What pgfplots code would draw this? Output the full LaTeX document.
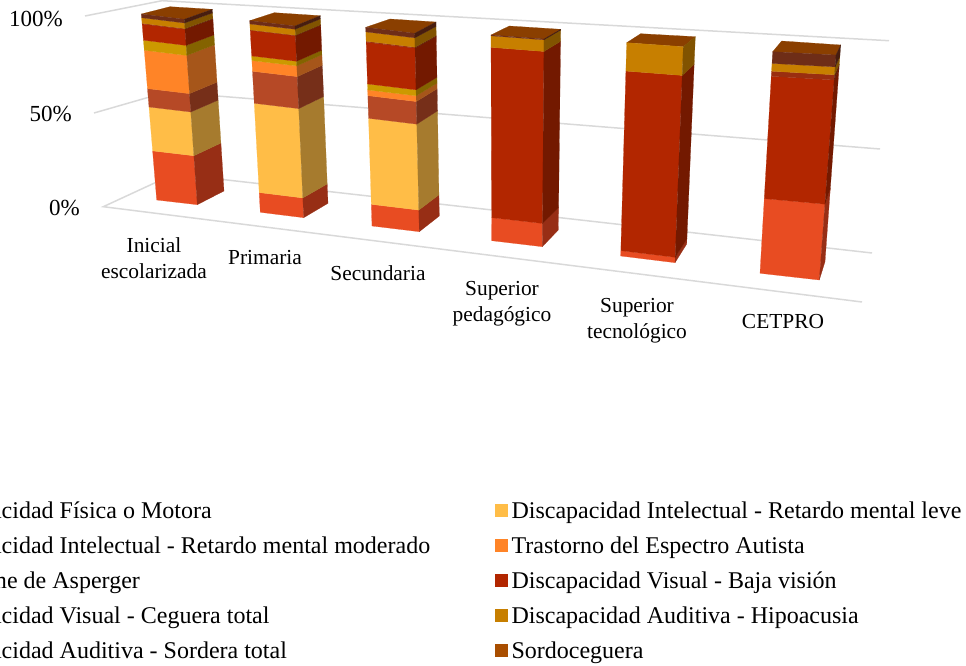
\documentclass[border=0pt]{standalone}
\usepackage{fontspec}
\setmainfont{Liberation Serif}
\usepackage{pgfplots}
\pgfplotsset{compat=1.18}

\definecolor{cFis}{HTML}{E84C22}\definecolor{cFisS}{HTML}{972E15}
\definecolor{cLev}{HTML}{FFBD47}\definecolor{cLevS}{HTML}{A67B2E}
\definecolor{cMod}{HTML}{B64926}\definecolor{cModS}{HTML}{762F19}
\definecolor{cTea}{HTML}{FF8427}\definecolor{cTeaS}{HTML}{A6561A}
\definecolor{cAsp}{HTML}{CC9900}\definecolor{cAspS}{HTML}{846300}
\definecolor{cBaj}{HTML}{B22600}\definecolor{cBajS}{HTML}{731900}
\definecolor{cCeg}{HTML}{9A2E10}\definecolor{cCegS}{HTML}{641E0A}
\definecolor{cHip}{HTML}{C77F00}\definecolor{cHipS}{HTML}{815300}
\definecolor{cSor}{HTML}{6E2D17}\definecolor{cSorS}{HTML}{471D0F}
\definecolor{cSdc}{HTML}{A94E00}\definecolor{cTop}{HTML}{8A3F00}
\definecolor{cGrid}{HTML}{D9D9D9}

% corners of one bar at 0%: front left, front right, back right
\newcommand{\barbottom}[6]{\gdef\cum{0}%
  \gdef\ax{#1}\gdef\ay{#2}\gdef\bx{#3}\gdef\by{#4}\gdef\cx{#5}\gdef\cy{#6}}
% corners at 100%: front left, front right, back right, back left
\newcommand{\bartop}[8]{%
  \gdef\Ax{#1}\gdef\Ay{#2}\gdef\Bx{#3}\gdef\By{#4}\gdef\Cx{#5}\gdef\Cy{#6}%
  \addplot[fill=cTop,draw=cTop,line width=.2pt,forget plot] coordinates {(#1,#2)(#3,#4)(#5,#6)(#7,#8)(#1,#2)};}
% one stacked segment: percentage, front colour, side colour
\newcommand{\seg}[3]{%
  \pgfmathsetmacro\lo{\cum/100}\pgfmathsetmacro\hi{(\cum+#1)/100}%
  \pgfmathsetmacro\pax{\ax+\lo*(\Ax-\ax)}\pgfmathsetmacro\pay{\ay+\lo*(\Ay-\ay)}%
  \pgfmathsetmacro\pbx{\bx+\lo*(\Bx-\bx)}\pgfmathsetmacro\pby{\by+\lo*(\By-\by)}%
  \pgfmathsetmacro\pcx{\cx+\lo*(\Cx-\cx)}\pgfmathsetmacro\pcy{\cy+\lo*(\Cy-\cy)}%
  \pgfmathsetmacro\qax{\ax+\hi*(\Ax-\ax)}\pgfmathsetmacro\qay{\ay+\hi*(\Ay-\ay)}%
  \pgfmathsetmacro\qbx{\bx+\hi*(\Bx-\bx)}\pgfmathsetmacro\qby{\by+\hi*(\By-\by)}%
  \pgfmathsetmacro\qcx{\cx+\hi*(\Cx-\cx)}\pgfmathsetmacro\qcy{\cy+\hi*(\Cy-\cy)}%
  \addplot[fill=#2,draw=#2,line width=.2pt,forget plot] coordinates {(\pax,\pay)(\pbx,\pby)(\qbx,\qby)(\qax,\qay)(\pax,\pay)};%
  \addplot[fill=#3,draw=#3,line width=.2pt,forget plot] coordinates {(\pbx,\pby)(\pcx,\pcy)(\qcx,\qcy)(\qbx,\qby)(\pbx,\pby)};%
  \pgfmathsetmacro\newcum{\cum+#1}\xdef\cum{\newcum}}

\pgfplotsset{sq/.style={legend image code/.code={\fill[#1] (0pt,-4pt) rectangle (12pt,8pt);}}}

\begin{document}
\begin{tikzpicture}[x=1pt,y=1pt]
\useasboundingbox (0,0) rectangle (966,666);
\clip (0,0) rectangle (966,666);
\begin{axis}[
  at={(0,0)},anchor=south west,
  scale only axis,width=966pt,height=666pt,
  xmin=0,xmax=966,ymin=0,ymax=666,y dir=reverse,
  hide axis,clip=false,
  legend columns=2,
  legend style={draw=none,fill=none,at={(axis cs:-92,500)},anchor=north west,
    font=\fontsize{24}{28}\selectfont,inner sep=0pt,outer sep=0pt,
    row sep=11pt,
    /tikz/every odd column/.append style={column sep=4pt},
    /tikz/every even column/.append style={column sep=65pt},
    nodes={inner sep=0pt,outer sep=0pt,text height=18pt,text depth=6pt}},
  legend cell align=left,
]
% walls
\addplot[cGrid,line width=1.5pt,forget plot] coordinates {(85,16)(162,0.7)(889,40.7)};
\addplot[cGrid,line width=1.5pt,forget plot] coordinates {(94,113)(167,92)(880,149)};
\addplot[cGrid,line width=1.5pt,forget plot] coordinates {(862,302)(103.3,206.7)(174,174)(872,253)};

% Inicial escolarizada
\bartop{141.3}{14}{184.3}{19.3}{212.3}{9.3}{170}{6.7}
\barbottom{156.7}{200}{197.3}{204.7}{224}{191}
\seg{26.4}{cFis}{cFisS}\seg{23.6}{cLev}{cLevS}\seg{9.9}{cMod}{cModS}\seg{20.6}{cTea}{cTeaS}
\seg{5.4}{cAsp}{cAspS}\seg{8.7}{cBaj}{cBajS}\seg{0.4}{cCeg}{cCegS}\seg{3.0}{cHip}{cHipS}\seg{2.0}{cSor}{cSorS}
% Primaria
\bartop{249.7}{20.7}{295}{26}{320.3}{15.7}{274.3}{12.7}
\barbottom{260.3}{212.3}{303.7}{217.7}{328}{203.3}
\seg{10.3}{cFis}{cFisS}\seg{46.6}{cLev}{cLevS}\seg{16.7}{cMod}{cModS}\seg{5.6}{cTea}{cTeaS}
\seg{2.4}{cAsp}{cAspS}\seg{13.3}{cBaj}{cBajS}\seg{0.3}{cCeg}{cCegS}\seg{3.1}{cHip}{cHipS}\seg{1.7}{cSor}{cSorS}
% Secundaria
\bartop{365.7}{27.3}{414.7}{33.3}{436}{22}{390}{19}
\barbottom{372}{226}{419.3}{231.7}{439.3}{216}
\seg{10.9}{cFis}{cFisS}\seg{43.3}{cLev}{cLevS}\seg{11.4}{cMod}{cModS}\seg{2.9}{cTea}{cTeaS}
\seg{3.0}{cAsp}{cAspS}\seg{21.0}{cBaj}{cBajS}\seg{0.5}{cCeg}{cCegS}\seg{4.7}{cHip}{cHipS}\seg{2.3}{cSor}{cSorS}
% Superior pedagogico
\bartop{491}{35}{544}{39}{560.7}{29.3}{509.3}{26}
\barbottom{491.7}{240.7}{542.3}{246.7}{558.3}{230}
\seg{11.2}{cFis}{cFisS}\seg{82.8}{cBaj}{cBajS}\seg{5.6}{cHip}{cHipS}\seg{0.4}{cSor}{cSorS}
% Superior tecnologico
\bartop{626.7}{42.7}{683.3}{46.7}{695.3}{36.7}{640.7}{33.7}
\barbottom{620.7}{256}{675}{262.7}{686.7}{244}
\seg{2.5}{cFis}{cFisS}\seg{84.2}{cBaj}{cBajS}\seg{13.3}{cHip}{cHipS}
% CETPRO
\bartop{772.7}{51.7}{836}{55}{840.7}{45}{781.7}{41}
\barbottom{760}{273.3}{819.3}{280}{825}{261.7}
\seg{33.7}{cFis}{cFisS}\seg{55.2}{cBaj}{cBajS}\seg{2.3}{cCeg}{cCegS}\seg{3.5}{cHip}{cHipS}\seg{5.3}{cSor}{cSorS}

\addlegendimage{sq=cFis}\addlegendentry{Discapacidad Física o Motora}
\addlegendimage{sq=cLev}\addlegendentry{Discapacidad Intelectual - Retardo mental leve}
\addlegendimage{sq=cMod}\addlegendentry{Discapacidad Intelectual - Retardo mental moderado}
\addlegendimage{sq=cTea}\addlegendentry{Trastorno del Espectro Autista}
\addlegendimage{sq=cAsp}\addlegendentry{Síndrome de Asperger}
\addlegendimage{sq=cBaj}\addlegendentry{Discapacidad Visual - Baja visión}
\addlegendimage{sq=cCeg}\addlegendentry{Discapacidad Visual - Ceguera total}
\addlegendimage{sq=cHip}\addlegendentry{Discapacidad Auditiva - Hipoacusia}
\addlegendimage{sq=cSor}\addlegendentry{Discapacidad Auditiva - Sordera total}
\addlegendimage{sq=cSdc}\addlegendentry{Sordoceguera}

% value axis labels
\node[anchor=east,inner sep=0pt,font=\fontsize{23}{26}\selectfont] at (axis cs:63,19) {100\%};
\node[anchor=east,inner sep=0pt,font=\fontsize{23}{26}\selectfont] at (axis cs:72,114) {50\%};
\node[anchor=east,inner sep=0pt,font=\fontsize{23}{26}\selectfont] at (axis cs:80,208) {0\%};
% category labels
\begin{scope}[every node/.style={align=center,inner sep=0pt,font=\fontsize{21.4}{25.7}\selectfont}]
\node at (axis cs:154,258) {Inicial\\escolarizada};
\node at (axis cs:265,258) {Primaria};
\node at (axis cs:378,273) {Secundaria};
\node at (axis cs:502,304) {Superior\\pedagógico};
\node at (axis cs:637,321) {Superior\\tecnológico};
\node at (axis cs:783,322) {CETPRO};
\end{scope}
\end{axis}
\end{tikzpicture}
\end{document}
